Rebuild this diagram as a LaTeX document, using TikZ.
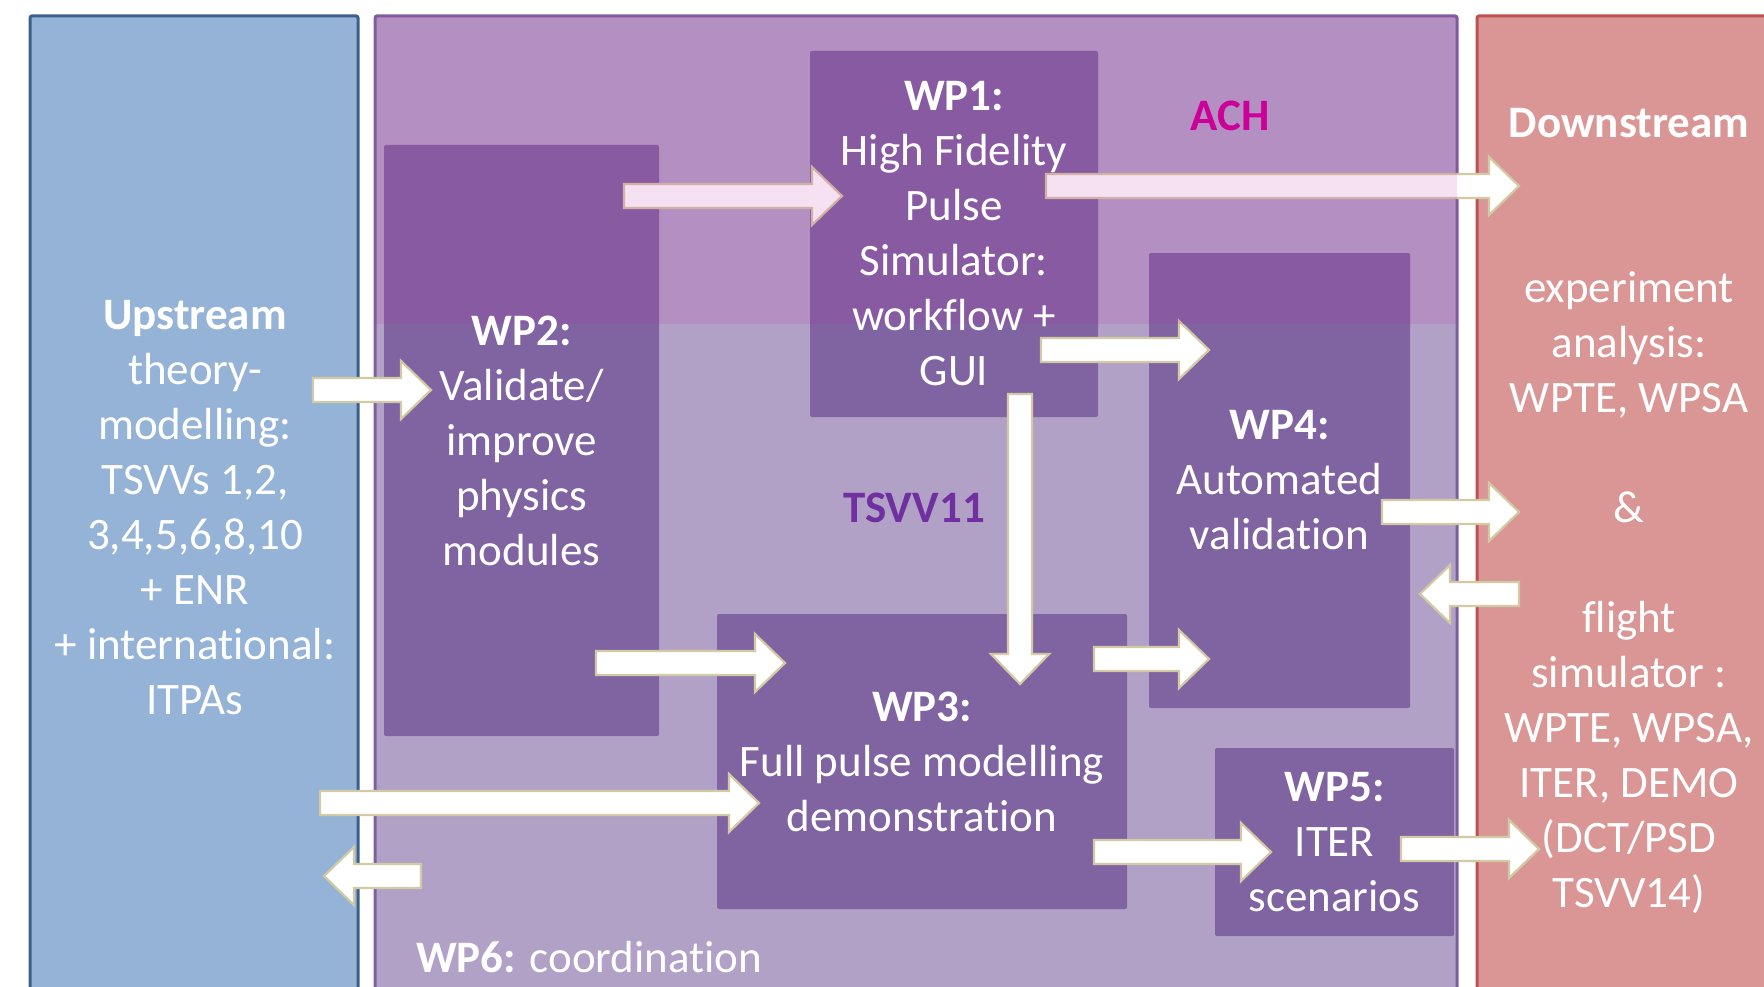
\documentclass[tikz,border=0pt]{standalone}
\usepackage{fontspec}
\setmainfont{Carlito}[Ligatures=NoCommon]
\usetikzlibrary{calc}
\pgfdeclarelayer{bg}
\pgfdeclarelayer{arr}
\pgfdeclarelayer{tint}
\pgfsetlayers{bg,arr,tint,main}
\definecolor{upfill}{HTML}{95B3D7}
\definecolor{upedge}{HTML}{3B5E8C}
\definecolor{midfill}{HTML}{B2A1C7}
\definecolor{midedge}{HTML}{7E5F9F}
\definecolor{downfill}{HTML}{D99694}
\definecolor{downedge}{HTML}{C0504D}
\definecolor{wpfill}{HTML}{8064A2}
\definecolor{tintc}{RGB}{193,24,161}
\definecolor{achc}{HTML}{CC0099}
\definecolor{tsvvc}{HTML}{7030A0}
\definecolor{arredge}{HTML}{D2CAA4}
\begin{document}
\begin{tikzpicture}[x=1pt,y=-1pt,
  box/.style={anchor=north west, inner sep=0pt, outer sep=0pt, rounded corners=2pt},
  outerbox/.style={box, line width=3pt, minimum height=1000pt},
  wpbox/.style={box, fill=wpfill},
  txt/.style={text=white, align=center, inner sep=0pt, font=\fontsize{45}{55}\selectfont},
  barrow/.style={fill=white, draw=arredge, line width=2.2pt, line join=miter,
    to path={
      ($(\tikztostart)!12pt!90:(\tikztotarget)$) --
      ($(\tikztotarget)!30pt!(\tikztostart)!12pt!90:(\tikztotarget)$) --
      ($(\tikztotarget)!30pt!(\tikztostart)!29pt!90:(\tikztotarget)$) --
      (\tikztotarget) --
      ($(\tikztotarget)!30pt!(\tikztostart)!29pt!-90:(\tikztotarget)$) --
      ($(\tikztotarget)!30pt!(\tikztostart)!12pt!-90:(\tikztotarget)$) --
      ($(\tikztostart)!12pt!-90:(\tikztotarget)$) -- cycle}}]
\useasboundingbox (0,0) rectangle (1764,987);

\begin{pgfonlayer}{bg}
\fill[white] (0,0) rectangle (1764,987);
\node[outerbox, fill=upfill, draw=upedge, minimum width=328pt] (up) at (30,16) {};
\node[outerbox, fill=midfill, draw=midedge, minimum width=1082pt] (mid) at (375,16) {};
\node[outerbox, fill=downfill, draw=downedge, minimum width=330pt] (down) at (1477,16) {};
\node[wpbox, minimum width=275pt, minimum height=591pt] (wp2) at (384,145) {};
\node[wpbox, minimum width=288pt, minimum height=366pt] (wp1) at (810,51) {};
\node[wpbox, minimum width=261pt, minimum height=455pt] (wp4) at (1149,253) {};
\node[wpbox, minimum width=410pt, minimum height=295pt] (wp3) at (717,614) {};
\node[wpbox, minimum width=239pt, minimum height=188pt] (wp5) at (1215,748) {};
\end{pgfonlayer}

\begin{pgfonlayer}{arr}
\draw[barrow] ($(up.east|-0,390)+(-45,0)$) to ($(wp2.west|-0,390)+(47,0)$);
\draw[barrow] ($(wp2.east|-0,196)+(-35,0)$) to ($(wp1.west|-0,196)+(32,0)$);
\draw[barrow] ($(wp1.east|-0,186)+(-52,0)$) to ($(down.west|-0,186)+(42,0)$);
\draw[barrow] ($(wp1.east|-0,350)+(-57,0)$) to ($(wp4.west|-0,350)+(60,0)$);
\draw[barrow] ($(wp1.south-|1020,0)+(0,-23)$) to ($(wp3.north-|1020,0)+(0,70)$);
\draw[barrow] ($(wp2.east|-0,663)+(-63,0)$) to ($(wp3.west|-0,663)+(68,0)$);
\draw[barrow] ($(wp3.east|-0,659)+(-33,0)$) to ($(wp4.west|-0,659)+(60,0)$);
\draw[barrow] ($(up.east|-0,803)+(-38,0)$) to ($(wp3.west|-0,803)+(42,0)$);
\draw[barrow] ($(mid.west|-0,876)+(46,0)$) to ($(up.east|-0,876)+(-34,0)$);
\draw[barrow] ($(wp4.east|-0,512)+(-28,0)$) to ($(down.west|-0,512)+(42,0)$);
\draw[barrow] ($(down.west|-0,594)+(42,0)$) to ($(wp4.east|-0,594)+(10,0)$);
\draw[barrow] ($(wp3.east|-0,852)+(-33,0)$) to ($(wp5.west|-0,852)+(56,0)$);
\draw[barrow] ($(wp5.east|-0,849)+(-53,0)$) to ($(down.west|-0,849)+(62,0)$);
\end{pgfonlayer}

\begin{pgfonlayer}{tint}
\fill[tintc, opacity=0.13] (mid.north west) rectangle (mid.east|-0,324);
\end{pgfonlayer}

\node[txt] (upt) at (195,508) {\textbf{Upstream}\\theory-\\modelling:\\TSVVs 1,2,\\3,4,5,6,8,10\\+ ENR\\+ international:\\ITPAs};
\node[txt] (wp2t) at (wp2) {\textbf{WP2:}\\Validate/\\improve\\physics\\modules};
\node[txt] (wp1t) at (wp1) {\textbf{WP1:}\\High Fidelity\\Pulse\\Simulator:\\workflow +\\GUI};
\node[txt] (wp4t) at (wp4) {\textbf{WP4:}\\Automated\\validation};
\node[txt] (wp3t) at (wp3) {\textbf{WP3:}\\Full pulse modelling\\demonstration};
\node[txt] (wp5t) at (wp5) {\textbf{WP5:}\\ITER\\scenarios};
\node[txt] (downt) at (1629,511) {\textbf{Downstream}\\[110pt]experiment\\analysis:\\WPTE, WPSA\\[55pt]\&\\[55pt]flight\\simulator :\\WPTE, WPSA,\\ITER, DEMO\\(DCT/PSD\\TSVV14)};
\node[txt, text=achc] (ach) at (1230,116) {\textbf{ACH}};
\node[txt, text=tsvvc] (tsvv) at (914,508) {\textbf{TSVV11}};
\node[txt, anchor=west] (wp6t) at (416,957) {\textbf{WP6:} coordination};
\end{tikzpicture}
\end{document}
